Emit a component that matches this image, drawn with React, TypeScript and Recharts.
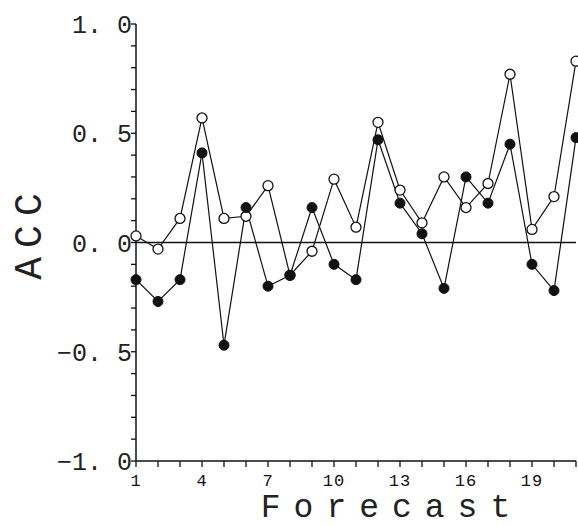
import { Line, LineChart, ReferenceLine, XAxis, YAxis, Label } from "recharts";

// forecast number (x) and ACC for both series
const forecastDays = [1, 2, 3, 4, 5, 6, 7, 8, 9, 10, 11, 12, 13, 14, 15, 16, 17, 18, 19, 20, 21];
const openAcc = [0.03, -0.03, 0.11, 0.57, 0.11, 0.12, 0.26, -0.15, -0.04, 0.29, 0.07, 0.55, 0.24, 0.09, 0.3, 0.16, 0.27, 0.77, 0.06, 0.21, 0.83];
const filledAcc = [-0.17, -0.27, -0.17, 0.41, -0.47, 0.16, -0.2, -0.15, 0.16, -0.1, -0.17, 0.47, 0.18, 0.04, -0.21, 0.3, 0.18, 0.45, -0.1, -0.22, 0.48];

const xMajorTicks = [1, 4, 7, 10, 13, 16, 19];
const yTicks = [-1, -0.9, -0.8, -0.7, -0.6, -0.5, -0.4, -0.3, -0.2, -0.1, 0, 0.1, 0.2, 0.3, 0.4, 0.5, 0.6, 0.7, 0.8, 0.9, 1];
const yMajorTicks = [-1, -0.5, 0, 0.5, 1];

const data = forecastDays.map((d, i) => ({ day: d, open: openAcc[i], filled: filledAcc[i] }));

const FONT = "'Liberation Mono', 'DejaVu Sans Mono', monospace";

const XTick = (props: any) => {
  const { x, y, payload } = props;
  const major = xMajorTicks.includes(payload.value);
  return (
    <g>
      <line x1={x} x2={x} y1={y} y2={y + 6} stroke="#111" strokeWidth={1.3} />
      {major && (
        <text x={x} y={y + 25} textAnchor="middle" fontFamily={FONT} fontSize={17} letterSpacing={1} fill="#111">
          {payload.value}
        </text>
      )}
    </g>
  );
};

const fmtY = (v: number) => {
  const s = Math.abs(v).toFixed(1).replace(".", ". ");
  return v < 0 ? "\u2212" + s : s;
};

const YTick = (props: any) => {
  const { x, y, payload } = props;
  const major = yMajorTicks.some((m) => Math.abs(m - payload.value) < 1e-6);
  return (
    <g>
      <line x1={x - 5} x2={x} y1={y} y2={y} stroke="#111" strokeWidth={1.3} />
      {major && (
        <text x={x - 4} y={y + 9} textAnchor="end" fontFamily={FONT} fontSize={25} fill="#222">
          {fmtY(payload.value)}
        </text>
      )}
    </g>
  );
};

const OpenDot = (props: any) => {
  const { cx, cy } = props;
  return <circle cx={cx} cy={cy} r={5} fill="#fff" stroke="#111" strokeWidth={1.3} />;
};

const FilledDot = (props: any) => {
  const { cx, cy } = props;
  return <circle cx={cx} cy={cy} r={5} fill="#111" stroke="#111" strokeWidth={1} />;
};

export default function App() {
  return (
    <div style={{ position: "absolute", left: 0, top: 0, background: "#fff" }}>
      <LineChart width={578} height={526} data={data} margin={{ top: 24, right: 2, bottom: 0, left: 0 }}>
        <XAxis
          dataKey="day"
          type="number"
          domain={[1, 21]}
          ticks={forecastDays}
          interval={0}
          tickSize={0}
          tickMargin={0}
          tick={<XTick />}
          height={65}
          axisLine={{ stroke: "#111", strokeWidth: 1.5 }}
        >
          <Label
            content={(p: any) => {
              const vb = p.viewBox;
              return (
                <text x={vb.x + 256} y={vb.y + 56} textAnchor="middle" fontFamily={FONT} fontSize={33} letterSpacing={13} fill="#222">
                  Forecast
                </text>
              );
            }}
          />
        </XAxis>
        <YAxis
          type="number"
          domain={[-1, 1]}
          ticks={yTicks}
          interval={0}
          width={136}
          tickSize={0}
          tickMargin={0}
          tick={<YTick />}
          axisLine={{ stroke: "#111", strokeWidth: 1.5 }}
        >
          <Label
            content={(p: any) => {
              const vb = p.viewBox;
              const cx = 30;
              const cy = vb.y + 208;
              return (
                <text x={cx} y={cy} transform={`rotate(-90 ${cx} ${cy})`} textAnchor="middle" dominantBaseline="central" fontFamily={FONT} fontSize={38} letterSpacing={9} fill="#222">
                  ACC
                </text>
              );
            }}
          />
        </YAxis>
        <ReferenceLine y={0} stroke="#111" strokeWidth={1.3} />
        <Line dataKey="open" stroke="#111" strokeWidth={1.2} dot={<OpenDot />} isAnimationActive={false} />
        <Line dataKey="filled" stroke="#111" strokeWidth={1.2} dot={<FilledDot />} isAnimationActive={false} />
      </LineChart>
    </div>
  );
}
